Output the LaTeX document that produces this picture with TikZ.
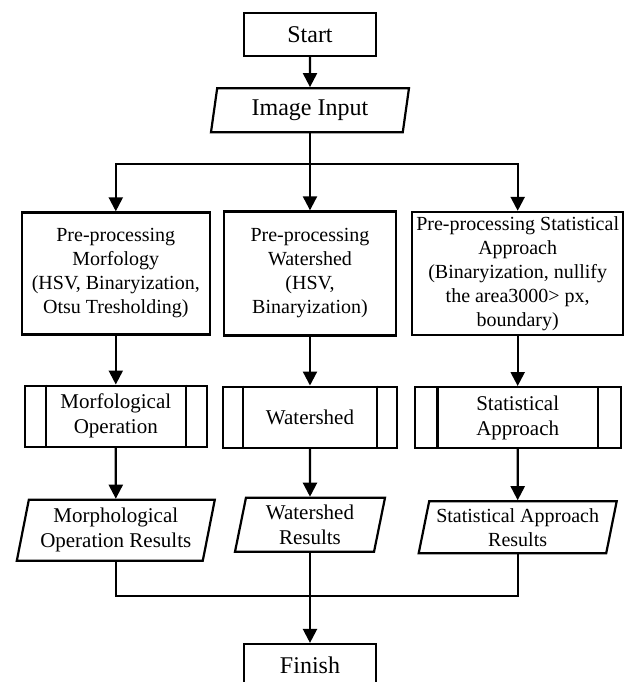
\documentclass[tikz,border=0pt]{standalone}
\usepackage{fontspec}
\setmainfont{Liberation Serif}
\usepackage{tikz}
\usetikzlibrary{shapes.geometric, arrows.meta, positioning}

\begin{document}
\begin{tikzpicture}[
    line width=1.1pt,
    node distance=16pt,
    terminal/.style={rectangle, draw, minimum width=66pt, minimum height=21.5pt, align=center, font=\fontsize{12}{14.4}\selectfont},
    process/.style={rectangle, draw, align=center, inner sep=1.5pt},
    subproc/.style={rectangle, draw, align=center, minimum height=30.5pt, font=\fontsize{10.5}{12.6}\selectfont},
    io/.style={trapezium, trapezium left angle=76, trapezium right angle=104, trapezium stretches body, draw, align=center, inner sep=1pt, font=\fontsize{10.5}{12.6}\selectfont},
    arrow/.style={-{Triangle[width=7pt,length=7pt]}}
]
\path[use as bounding box, clip] (-155pt,17.25pt) rectangle (161pt,-323.75pt);

% Start and input
\node[terminal] (start) at (0,0) {Start};
\node[io, minimum width=99pt, minimum height=22pt, below=15pt of start, font=\fontsize{12}{14.4}\selectfont] (input) {Image Input};

% Pre-processing
\node[process, minimum width=86pt, minimum height=62pt, below=38.5pt of input] (prewat) {Pre-processing\\Watershed\\(HSV,\\Binaryization)};
\node[process, minimum width=94pt, minimum height=61pt, left=6pt of prewat] (premorf) {Pre-processing\\Morfology\\(HSV, Binaryization,\\Otsu Tresholding)};
\node[process, minimum width=105.5pt, minimum height=61.5pt, right=7pt of prewat] (prestat) {Pre-processing Statistical\\Approach\\(Binaryization, nullify\\the area3000> px,\\boundary)};

% Sub-processes
\node[subproc, minimum width=91pt, below=24.5pt of premorf] (morfop) {Morfological\\Operation};
\node[subproc, minimum width=87pt, below=24.5pt of prewat] (watop) {Watershed};
\node[subproc, minimum width=103pt, below=25pt of prestat] (statop) {Statistical\\Approach};

\foreach \n/\d in {morfop/11pt, watop/10.5pt, statop/12pt}{
  \draw ([xshift=\d]\n.north west) -- ([xshift=\d]\n.south west);
  \draw ([xshift=-\d]\n.north east) -- ([xshift=-\d]\n.south east);
}

% Results
\node[io, minimum width=99pt, minimum height=30.5pt, below=25.5pt of morfop] (morfres) {Morphological\\Operation Results};
\node[io, minimum width=75pt, minimum height=27pt, below=24pt of watop] (watres) {Watershed\\Results};
\node[io, minimum width=99pt, minimum height=26pt, below=25.5pt of statop, font=\fontsize{10}{12}\selectfont] (statres) {Statistical Approach\\Results};

\node[terminal, below=45pt of watres] (finish) {Finish};

% Arrows
\draw[arrow] (start) -- (input);
\draw (input.south) -- ++(0,-15.5pt) coordinate (split);
\draw[arrow] (split) -| (premorf.north);
\draw[arrow] (split) -| (prestat.north);
\draw[arrow] (split) -- (prewat.north);
\draw[arrow] (premorf) -- (morfop);
\draw[arrow] (prewat) -- (watop);
\draw[arrow] (prestat) -- (statop);
\draw[arrow] (morfop) -- (morfres);
\draw[arrow] (watop) -- (watres);
\draw[arrow] (statop) -- (statres);

\coordinate[below=21.5pt of watres.south] (merge);
\draw (morfres.south) |- (merge) -| (statres.south);
\draw[arrow] (watres.south) -- (finish.north);

\end{tikzpicture}
\end{document}
